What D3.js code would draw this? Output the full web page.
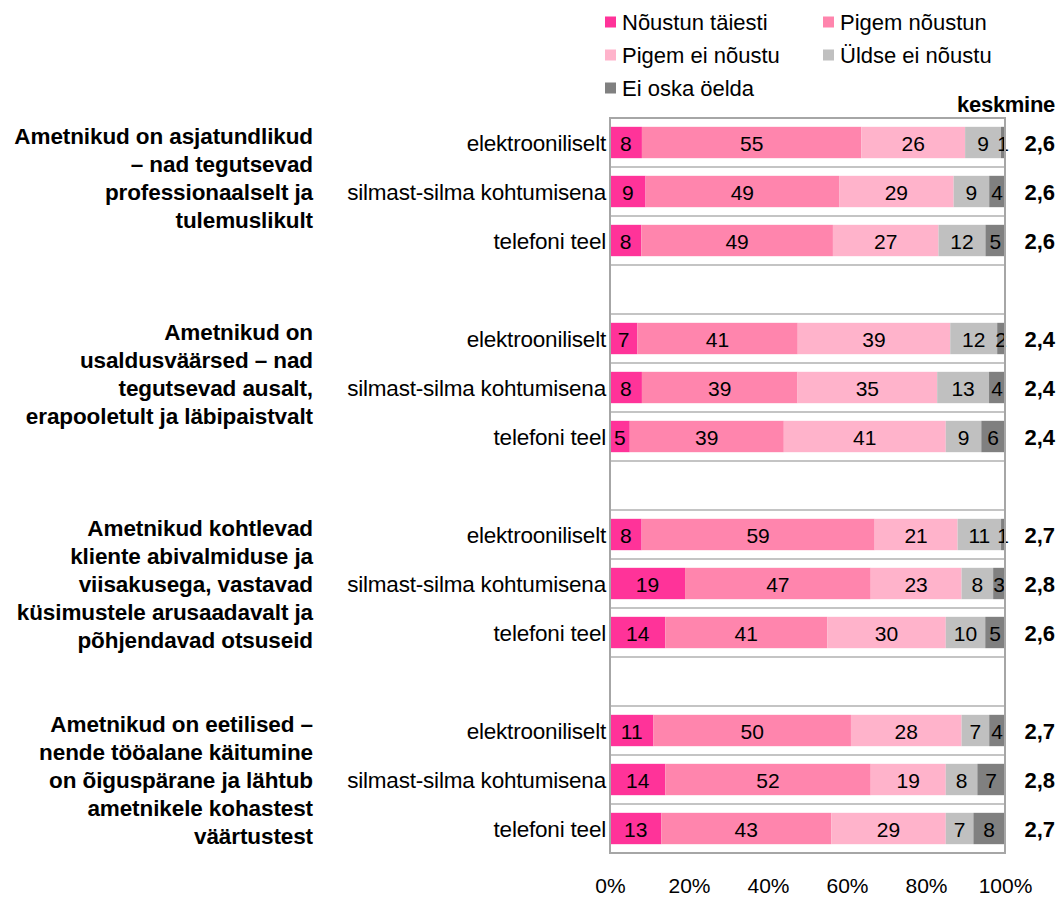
<!DOCTYPE html>
<html>
<head>
<meta charset="utf-8">
<script src="https://cdn.jsdelivr.net/npm/d3@7"></script>
<style>
  body{margin:0;background:#fff;}
  text{font-family:"Liberation Sans",Arial,sans-serif;fill:#000;}
</style>
</head>
<body>
<svg id="chart"></svg>
<script>
// data
var groups = [
  ["Ametnikud on asjatundlikud", "– nad tegutsevad", "professionaalselt ja", "tulemuslikult"],
  ["Ametnikud on", "usaldusväärsed – nad", "tegutsevad ausalt,", "erapooletult ja läbipaistvalt"],
  ["Ametnikud kohtlevad", "kliente abivalmiduse ja", "viisakusega, vastavad", "küsimustele arusaadavalt ja", "põhjendavad otsuseid"],
  ["Ametnikud on eetilised –", "nende tööalane käitumine", "on õiguspärane ja lähtub", "ametnikele kohastest", "väärtustest"]
];
var channels = ["elektrooniliselt", "silmast-silma kohtumisena", "telefoni teel"];
var seriesNames = ["Nõustun täiesti", "Pigem nõustun", "Pigem ei nõustu", "Üldse ei nõustu", "Ei oska öelda"];
var colors = ["#FF3399", "#FF85AD", "#FFB3CB", "#C0C0C0", "#808080"];

var noustunTaiesti = [8, 9, 8, 7, 8, 5, 8, 19, 14, 11, 14, 13];
var pigemNoustun   = [55, 49, 49, 41, 39, 39, 59, 47, 41, 50, 52, 43];
var pigemEiNoustu  = [26, 29, 27, 39, 35, 41, 21, 23, 30, 28, 19, 29];
var uldseEiNoustu  = [9, 9, 12, 12, 13, 9, 11, 8, 10, 7, 8, 7];
var eiOskaOelda    = [1, 4, 5, 2, 4, 6, 1, 3, 5, 4, 7, 8];
var keskmine = ["2,6", "2,6", "2,6", "2,4", "2,4", "2,4", "2,7", "2,8", "2,6", "2,7", "2,8", "2,7"];
var xTicks = [0, 0.2, 0.4, 0.6, 0.8, 1];

var width = 1059, height = 897;
var svg = d3.select("#chart").attr("width", width).attr("height", height);

var plot = {left: 610, right: 1005, top: 118, bottom: 853};

// 15 slots: 3 bars per group plus an empty slot between groups
var slots = d3.range(15);
var y = d3.scaleBand().domain(slots).range([plot.top, plot.bottom]).padding(0);
var x = d3.scaleLinear().domain([0, 1]).range([plot.left, plot.right]);
var barH = y.bandwidth() * 0.64;

var allSeries = [noustunTaiesti, pigemNoustun, pigemEiNoustu, uldseEiNoustu, eiOskaOelda];
var rows = [];
for (var i = 0; i < 12; i++) {
  var g = Math.floor(i / 3), c = i % 3;
  var vals = allSeries.map(function(s){ return s[i]; });
  var total = d3.sum(vals);
  var acc = 0;
  var segs = vals.map(function(v, k){
    var s = {k: k, v: v, x0: acc / total, x1: (acc + v) / total};
    acc += v;
    return s;
  });
  rows.push({i: i, g: g, c: c, slot: g * 4 + c, segs: segs, mean: keskmine[i]});
}

// gridlines at each slot boundary
svg.append("g").selectAll("line")
  .data(d3.range(1, 15))
  .enter().append("line")
  .attr("x1", plot.left).attr("x2", plot.right)
  .attr("y1", function(d){ return y(d); })
  .attr("y2", function(d){ return y(d); })
  .attr("stroke", "#C4C4C4").attr("stroke-width", 2);

// bars
var bar = svg.append("g").selectAll("g.row")
  .data(rows).enter().append("g").attr("class", "row");

bar.selectAll("rect")
  .data(function(d){ return d.segs.map(function(s){ s.slot = d.slot; return s; }); })
  .enter().append("rect")
  .attr("x", function(d){ return x(d.x0); })
  .attr("width", function(d){ return x(d.x1) - x(d.x0); })
  .attr("y", function(d){ return y(d.slot) + (y.bandwidth() - barH) / 2; })
  .attr("height", barH)
  .attr("fill", function(d){ return colors[d.k]; });

bar.selectAll("text.val")
  .data(function(d){ return d.segs; })
  .enter().append("text")
  .attr("class", "val")
  .attr("x", function(d){ return (x(d.x0) + x(d.x1)) / 2; })
  .attr("y", function(d){ return y(d.slot) + y.bandwidth() / 2 + 8; })
  .attr("text-anchor", "middle")
  .style("font-size", "21px")
  .text(function(d){ return d.v; });

// category labels
bar.append("text")
  .attr("x", plot.left - 4)
  .attr("y", function(d){ return y(d.slot) + y.bandwidth() / 2 + 8; })
  .attr("text-anchor", "end")
  .style("font-size", "22.5px")
  .style("letter-spacing", "-0.2px")
  .text(function(d){ return channels[d.c]; });

// keskmine values
bar.append("text")
  .attr("x", 1055)
  .attr("y", function(d){ return y(d.slot) + y.bandwidth() / 2 + 8; })
  .attr("text-anchor", "end")
  .style("font-size", "22px").style("font-weight", "bold")
  .text(function(d){ return d.mean; });

svg.append("text")
  .attr("x", 1055).attr("y", 112)
  .attr("text-anchor", "end")
  .style("font-size", "22px").style("font-weight", "bold")
  .style("letter-spacing", "-0.3px")
  .text("keskmine");

// frame
svg.append("rect")
  .attr("x", plot.left).attr("y", plot.top)
  .attr("width", plot.right - plot.left).attr("height", plot.bottom - plot.top)
  .attr("fill", "none").attr("stroke", "#A6A6A6").attr("stroke-width", 2);

// group labels
groups.forEach(function(lines, g){
  var cy = y(g * 4) + y.bandwidth() / 2;
  var t = svg.append("text")
    .attr("text-anchor", "end")
    .style("font-size", "22.5px").style("font-weight", "bold")
    .style("letter-spacing", "-0.1px");
  lines.forEach(function(line, j){
    t.append("tspan")
      .attr("x", 313)
      .attr("y", cy + 1 + j * 28)
      .text(line);
  });
});

// x axis
var xAxis = d3.axisBottom(x).tickValues(xTicks)
  .tickFormat(d3.format(".0%")).tickSize(0).tickPadding(0);
var ax = svg.append("g")
  .attr("transform", "translate(0," + 893 + ")")
  .call(xAxis);
ax.select(".domain").remove();
ax.selectAll("text")
  .attr("dy", 0)
  .style("font-family", "\"Liberation Sans\",Arial,sans-serif")
  .style("font-size", "21px")
  .attr("fill", "#000");

// legend
var legendPos = [[605, 22], [823, 22], [605, 55], [823, 55], [605, 88]];
var leg = svg.append("g").selectAll("g")
  .data(seriesNames).enter().append("g")
  .attr("transform", function(d, i){ return "translate(" + legendPos[i][0] + "," + legendPos[i][1] + ")"; });
leg.append("rect")
  .attr("x", 0).attr("y", -5.5).attr("width", 11).attr("height", 11)
  .attr("fill", function(d, i){ return colors[i]; });
leg.append("text")
  .attr("x", 17).attr("y", 8)
  .style("font-size", "22px")
  .text(function(d){ return d; });
</script>
</body>
</html>
